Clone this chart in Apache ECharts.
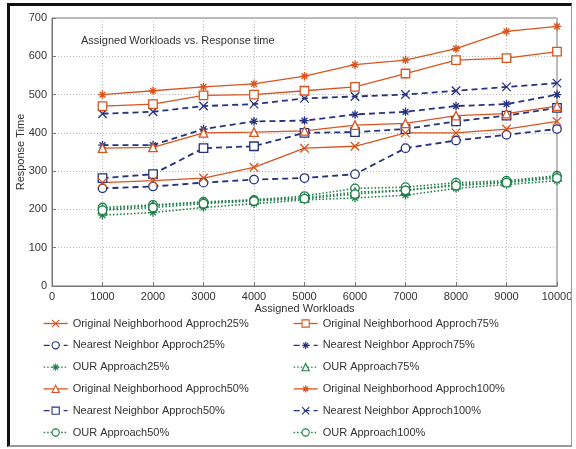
<!DOCTYPE html>
<html>
<head>
<meta charset="utf-8">
<script src="https://cdn.jsdelivr.net/npm/echarts@6/dist/echarts.min.js"></script>
<style>
  html, body { margin: 0; padding: 0; background: #fff; }
  #wrap { position: relative; width: 576px; height: 449px; }
  #chart { width: 576px; height: 449px; }
  #frame { position: absolute; left: 7px; top: 3px; right: 4px; bottom: 2px;
           border-top: 3px solid #111; border-left: 3px solid #111;
           border-right: 1px solid #999; border-bottom: 2px solid #999; pointer-events: none; }
</style>
</head>
<body>
<div id="wrap">
  <div id="chart"></div>
  <div id="frame"></div>
</div>
<script>
var workloads = [1000, 2000, 3000, 4000, 5000, 6000, 7000, 8000, 9000, 10000];

var orig25 = [270, 275, 282, 310, 360, 365, 400, 400, 410, 430];
var orig50 = [360, 362, 400, 402, 405, 420, 425, 445, 450, 470];
var orig75 = [470, 475, 498, 500, 510, 520, 555, 590, 595, 612];
var orig100 = [500, 510, 520, 528, 548, 578, 590, 620, 665, 678];

var near25 = [255, 260, 270, 278, 282, 292, 360, 380, 395, 410];
var near50 = [282, 292, 360, 365, 400, 402, 410, 430, 445, 465];
var near75 = [368, 368, 410, 430, 432, 448, 455, 470, 475, 500];
var near100 = [450, 455, 470, 475, 490, 495, 500, 510, 520, 530];

var our25 = [185, 192, 205, 215, 225, 230, 237, 255, 265, 275];
var our50 = [205, 212, 220, 225, 235, 255, 258, 270, 275, 288];
var our75 = [200, 210, 218, 225, 230, 245, 250, 265, 272, 285];
var our100 = [198, 205, 215, 222, 228, 240, 250, 262, 270, 282];

var leftNames = ['Original Neighborhood Approch25%', 'Nearest Neighbor Approch25%', 'OUR Approach25%',
                 'Original Neighborhood Approch50%', 'Nearest Neighbor Approch50%', 'OUR Approach50%'];
var rightNames = ['Original Neighborhood Approch75%', 'Nearest Neighbor Approch75%', 'OUR Approach75%',
                  'Original Neighborhood Approch100%', 'Nearest Neighbor Approch100%', 'OUR Approach100%'];

var ORANGE = '#d9541e';
var BLUE = '#27327e';
var GREEN = '#1f7f4a';
var FONT = 'Liberation Sans';

var CROSS = 'path://M0,0L10,10M10,0L0,10';
var STAR = 'path://M5,0L5,10M0,5L10,5M1.6,1.6L8.4,8.4M8.4,1.6L1.6,8.4';

function pair(values) {
    return workloads.map(function (w, i) { return [w, values[i]]; });
}

function line(name, values, color, symbol, kind) {
    var lineType = kind === 'orig' ? 'solid' : (kind === 'near' ? [6, 4] : [1.5, 2]);
    var width = kind === 'orig' ? 1.3 : (kind === 'near' ? 1.8 : 1.6);
    return {
        name: name,
        type: 'line',
        data: pair(values),
        symbol: symbol,
        symbolSize: 8.5,
        showAllSymbol: true,
        color: color,
        lineStyle: { color: color, width: width, type: lineType },
        itemStyle: { color: '#fff', borderColor: color, borderWidth: 1.3 },
        emphasis: { disabled: true },
        animation: false
    };
}

var chart = echarts.init(document.getElementById('chart'));

var legendBase = {
    orient: 'vertical',
    top: 318,
    height: 130,
    padding: 0,
    itemWidth: 24,
    itemHeight: 9,
    itemGap: 10.8,
    lineStyle: { width: 1.3 },
    itemStyle: { borderWidth: 1.1 },
    textStyle: { fontFamily: FONT, fontSize: 11, color: '#333' }
};

chart.setOption({
    backgroundColor: '#fff',
    title: {
        text: 'Assigned Workloads vs. Response time',
        left: 76,
        top: 30,
        textStyle: { fontFamily: FONT, fontSize: 11, fontWeight: 'normal', color: '#333' }
    },
    legend: [
        Object.assign({}, legendBase, { left: 43, data: leftNames }),
        Object.assign({}, legendBase, { left: 293, data: rightNames })
    ],
    grid: {
        left: 52, right: 19, top: 18, bottom: 163,
        show: true, borderColor: '#777', borderWidth: 1
    },
    xAxis: {
        type: 'value',
        min: 0, max: 10000, interval: 1000,
        name: 'Assigned Workloads',
        nameLocation: 'middle',
        nameGap: 17,
        nameMoveOverlap: false,
        nameTextStyle: { fontFamily: FONT, fontSize: 11, color: '#333' },
        axisLine: { lineStyle: { color: '#777' } },
        axisTick: { inside: true, length: 4, lineStyle: { color: '#777' } },
        axisLabel: { fontFamily: FONT, fontSize: 11, color: '#333', margin: 5,
                     formatter: function (v) { return String(v); } },
        splitLine: { show: true, lineStyle: { color: '#bbb', type: [1, 2] } }
    },
    yAxis: {
        type: 'value',
        min: 0, max: 700, interval: 100,
        name: 'Response Time',
        nameLocation: 'middle',
        nameGap: 26,
        nameMoveOverlap: false,
        nameTextStyle: { fontFamily: FONT, fontSize: 11, color: '#333' },
        axisLine: { show: true, lineStyle: { color: '#777' } },
        axisTick: { show: true, inside: true, length: 4, lineStyle: { color: '#777' } },
        axisLabel: { fontFamily: FONT, fontSize: 11, color: '#333', margin: 5 },
        splitLine: { show: true, lineStyle: { color: '#bbb', type: [1, 2] } }
    },
    series: [
        line('OUR Approach25%', our25, GREEN, STAR, 'our'),
        line('OUR Approach50%', our50, GREEN, 'circle', 'our'),
        line('OUR Approach75%', our75, GREEN, 'triangle', 'our'),
        line('OUR Approach100%', our100, GREEN, 'circle', 'our'),
        line('Nearest Neighbor Approch25%', near25, BLUE, 'circle', 'near'),
        line('Nearest Neighbor Approch50%', near50, BLUE, 'rect', 'near'),
        line('Nearest Neighbor Approch75%', near75, BLUE, STAR, 'near'),
        line('Nearest Neighbor Approch100%', near100, BLUE, CROSS, 'near'),
        line('Original Neighborhood Approch25%', orig25, ORANGE, CROSS, 'orig'),
        line('Original Neighborhood Approch50%', orig50, ORANGE, 'triangle', 'orig'),
        line('Original Neighborhood Approch75%', orig75, ORANGE, 'rect', 'orig'),
        line('Original Neighborhood Approch100%', orig100, ORANGE, STAR, 'orig')
    ]
});
</script>
</body>
</html>
